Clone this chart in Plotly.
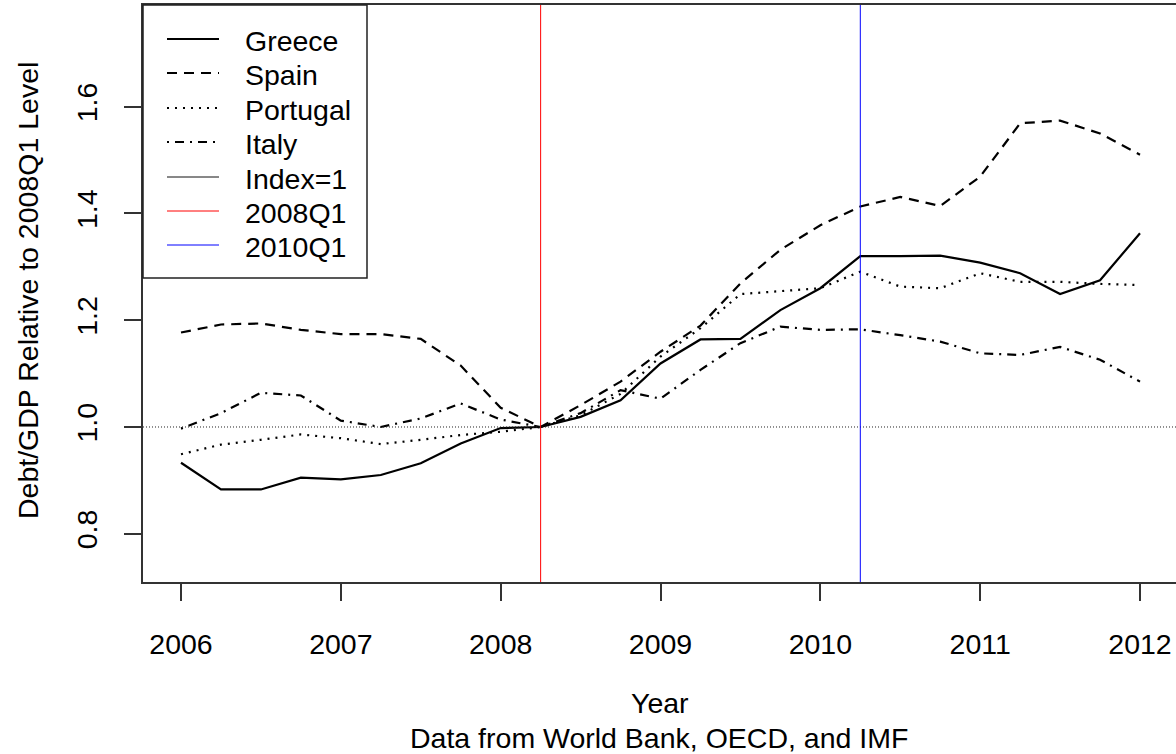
import plotly.graph_objects as go

# Quarterly observations, 2006Q1 .. 2012Q1 (index: 2008Q1 = 1)
quarters = [2006 + 0.25 * i for i in range(25)]

greece = [0.933, 0.883, 0.883, 0.905, 0.902, 0.910, 0.932, 0.969, 0.998, 1.000,
          1.019, 1.050, 1.119, 1.164, 1.165, 1.219, 1.260, 1.320, 1.320, 1.321,
          1.308, 1.288, 1.249, 1.275, 1.363]
spain = [1.177, 1.192, 1.194, 1.182, 1.174, 1.174, 1.165, 1.115, 1.036, 1.000,
         1.041, 1.085, 1.141, 1.190, 1.269, 1.332, 1.378, 1.413, 1.431, 1.414,
         1.469, 1.569, 1.574, 1.550, 1.510]
portugal = [0.949, 0.967, 0.976, 0.986, 0.979, 0.968, 0.976, 0.985, 0.991, 1.000,
            1.022, 1.062, 1.132, 1.185, 1.249, 1.254, 1.260, 1.291, 1.263, 1.260,
            1.288, 1.272, 1.272, 1.268, 1.266]
italy = [0.997, 1.026, 1.064, 1.059, 1.012, 1.000, 1.016, 1.044, 1.014, 1.000,
         1.026, 1.069, 1.053, 1.107, 1.157, 1.188, 1.182, 1.183, 1.172, 1.160,
         1.138, 1.135, 1.150, 1.126, 1.085]

marker_2008q1 = 2008.25
marker_2010q1 = 2010.25
index_level = 1.0

x_ticks = [2006, 2007, 2008, 2009, 2010, 2011, 2012]
y_ticks = [0.8, 1.0, 1.2, 1.4, 1.6]
y_tick_text = ["0.8", "1.0", "1.2", "1.4", "1.6"]

FONT = "Liberation Sans, Arial, sans-serif"
FS = 28.5

# page geometry (pixels)
W, H = 1176, 754
ML, MT, MB = 143, 5, 172
PW, PH = W - ML, H - MT - MB


def px(xpix):
    return (xpix - ML) / PW


def py(ypix):
    return (H - MB - ypix) / PH


series = [
    ("Greece", greece, "solid"),
    ("Spain", spain, "10px,7px"),
    ("Portugal", portugal, "2px,6px"),
    ("Italy", italy, "2px,6px,9px,6px"),
]

fig = go.Figure()
for name, vals, dash in series:
    fig.add_trace(go.Scatter(
        x=quarters, y=vals, mode="lines", name=name,
        line=dict(color="black", width=2.2, dash=dash),
        showlegend=False,
    ))

shapes = [
    dict(type="line", xref="paper", yref="y", x0=0, x1=1,
         y0=index_level, y1=index_level,
         line=dict(color="#222222", width=1, dash="1px,2px")),
    dict(type="line", xref="x", yref="paper", x0=marker_2008q1, x1=marker_2008q1,
         y0=0, y1=1, line=dict(color="#ff0000", width=1)),
    dict(type="line", xref="x", yref="paper", x0=marker_2010q1, x1=marker_2010q1,
         y0=0, y1=1, line=dict(color="#0000ff", width=1)),
]

# legend box
shapes.append(dict(type="rect", xref="paper", yref="paper",
                   x0=px(143), x1=px(367), y0=py(278), y1=py(5),
                   fillcolor="white", line=dict(color="#222222", width=1.5),
                   layer="above"))

legend_items = [
    ("Greece", "black", 2.2, "solid"),
    ("Spain", "black", 2.2, "10px,7px"),
    ("Portugal", "black", 2.2, "2px,6px"),
    ("Italy", "black", 2.2, "2px,6px,9px,6px"),
    ("Index=1", "#111111", 1, "solid"),
    ("2008Q1", "#ff0000", 1, "solid"),
    ("2010Q1", "#0000ff", 1, "solid"),
]
row_y = [39, 73, 108, 142, 177, 211, 245]

annotations = []
for (label, color, width, dash), ry in zip(legend_items, row_y):
    shapes.append(dict(type="line", xref="paper", yref="paper",
                       x0=px(167), x1=px(219), y0=py(ry), y1=py(ry),
                       line=dict(color=color, width=width, dash=dash),
                       layer="above"))
    annotations.append(dict(xref="paper", yref="paper", x=px(243), y=py(ry + 2),
                            text=label, showarrow=False, xanchor="left",
                            yanchor="middle",
                            font=dict(family=FONT, size=FS, color="black")))

annotations += [
    dict(xref="paper", yref="paper", x=px(660), y=py(703), text="Year",
         showarrow=False, xanchor="center", yanchor="middle",
         font=dict(family=FONT, size=FS, color="black")),
    dict(xref="paper", yref="paper", x=px(659), y=py(738),
         text="Data from World Bank, OECD, and IMF",
         showarrow=False, xanchor="center", yanchor="middle",
         font=dict(family=FONT, size=FS, color="black")),
    dict(xref="paper", yref="paper", x=px(28), y=py(291),
         text="Debt/GDP Relative to 2008Q1 Level", textangle=-90,
         showarrow=False, xanchor="center", yanchor="middle",
         font=dict(family=FONT, size=FS, color="black")),
]

fig.update_layout(
    width=W, height=H,
    margin=dict(l=ML, r=0, t=MT, b=MB, pad=0),
    paper_bgcolor="white", plot_bgcolor="white",
    font=dict(family=FONT, size=FS, color="black"),
    shapes=shapes, annotations=annotations,
    showlegend=False,
)
fig.update_xaxes(
    range=[2005.7622, 2012.2252], tickvals=x_ticks,
    ticktext=[str(t) for t in x_ticks],
    showgrid=False, zeroline=False,
    showline=True, linecolor="#333333", linewidth=1.5, mirror=True,
    ticks="outside", ticklen=17, tickwidth=1.5, tickcolor="#333333",
    ticklabelstandoff=19,
    tickfont=dict(family=FONT, size=FS, color="black"),
)
fig.update_yaxes(
    range=[0.7096, 1.7906], tickvals=y_ticks, ticktext=y_tick_text,
    showgrid=False, zeroline=False,
    showline=True, linecolor="#333333", linewidth=1.5, mirror=False,
    ticks="outside", ticklen=17, tickwidth=1.5, tickcolor="#333333",
    tickangle=-90, ticklabelstandoff=16,
    tickfont=dict(family=FONT, size=FS, color="black"),
)

fig.write_html("out.html")
